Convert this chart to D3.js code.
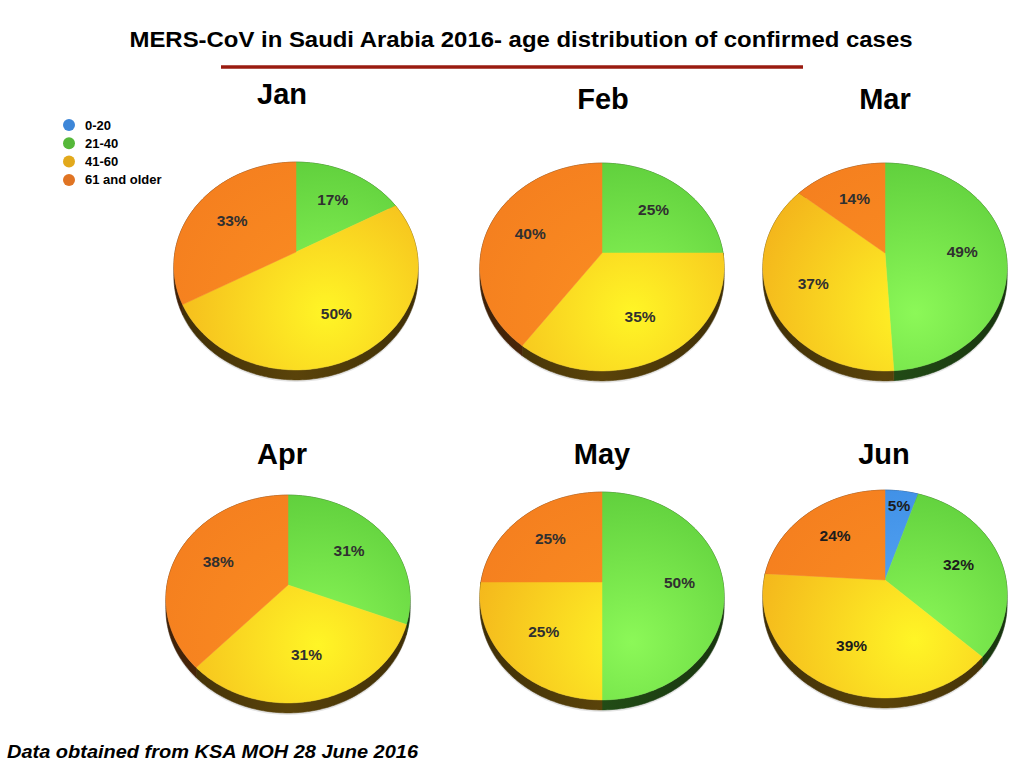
<!DOCTYPE html>
<html>
<head>
<meta charset="utf-8">
<script src="https://cdn.jsdelivr.net/npm/d3@7"></script>
<style>
  body { margin: 0; background: #fff; }
  svg { display: block; }
</style>
</head>
<body>
<svg id="chart" width="1024" height="768"></svg>
<script>
// data (percent of confirmed cases per month)
var months = ["Jan", "Feb", "Mar", "Apr", "May", "Jun"];
var ageGroups = ["0-20", "21-40", "41-60", "61 and older"];
var age0to20 = [0, 0, 0, 0, 0, 5];
var age21to40 = [17, 25, 49, 31, 50, 32];
var age41to60 = [50, 35, 37, 31, 25, 39];
var age61plus = [33, 40, 14, 38, 25, 24];

var legendColors = ["#3d86d8", "#55b83a", "#e2a91c", "#e07423"];
var faceEdge = ["#3f8fe6", "#5dcd3b", "#f4b71c", "#f5801f"];
var faceLight = ["#5aaaf6", "#8cf858", "#fff526", "#fb8e22"];

var svg = d3.select("#chart");
var defs = svg.append("defs");

var R = 121, RK = 102, persp = 0.135, thick = 10;

svg.append("text")
    .attr("x", 521).attr("y", 47)
    .attr("text-anchor", "middle")
    .attr("textLength", 783).attr("lengthAdjust", "spacingAndGlyphs")
    .style("font-family", "'Liberation Sans Narrow', 'Liberation Sans', Arial, sans-serif")
    .style("font-weight", "bold").style("font-size", "22px")
    .text("MERS-CoV in Saudi Arabia 2016- age distribution of confirmed cases");

svg.append("line")
    .attr("x1", 221).attr("x2", 803).attr("y1", 67).attr("y2", 67)
    .attr("stroke", "#9a1b10").attr("stroke-width", 3.5);

// legend
var legend = svg.append("g").attr("transform", "translate(69,125)");
ageGroups.forEach(function(g, i) {
    legend.append("circle").attr("cx", 0).attr("cy", i * 18.3).attr("r", 6)
        .attr("fill", legendColors[i]);
    legend.append("text").attr("x", 16).attr("y", i * 18.3 + 4.5)
        .style("font-family", "'Liberation Sans', Arial, sans-serif")
        .style("font-weight", "bold").style("font-size", "13px")
        .text(g);
});

svg.append("text")
    .attr("x", 7).attr("y", 758)
    .attr("textLength", 411).attr("lengthAdjust", "spacingAndGlyphs")
    .style("font-family", "'Liberation Sans', Arial, sans-serif")
    .style("font-weight", "bold").style("font-style", "italic").style("font-size", "19px")
    .text("Data obtained from KSA MOH 28 June 2016");

function project(cx, cy, a, r) {
    var X = r * Math.sin(a), Z = -r * Math.cos(a);
    var s = 1 / (1 - Z * persp);
    return [cx + R * X * s, cy + RK * Z * s];
}

function arcPoints(cx, cy, a0, a1, dy) {
    var n = Math.max(2, Math.ceil((a1 - a0) / 0.02));
    var pts = [];
    for (var i = 0; i <= n; i++) {
        var p = project(cx, cy, a0 + (a1 - a0) * i / n, 1);
        pts.push([p[0], p[1] + (dy || 0)]);
    }
    return pts;
}

var line = d3.line();
var pie = d3.pie().sort(null).value(function(d) { return d.value; });

var pieCx = [296, 602, 885, 288, 602, 885];
var pieCy = [252, 253, 253, 585, 582, 580];
var labelX = [282, 603, 885, 282, 602, 884];
var labelY = [104, 109, 109, 464, 464, 464];

months.forEach(function(m, mi) {
    var cx = pieCx[mi], cy = pieCy[mi];
    var values = [age0to20[mi], age21to40[mi], age41to60[mi], age61plus[mi]];
    var slices = pie(values.map(function(v, i) { return { value: v, group: i }; }))
        .filter(function(d) { return d.value > 0; });

    svg.append("text")
        .attr("x", labelX[mi]).attr("y", labelY[mi])
        .attr("text-anchor", "middle")
        .style("font-family", "'Liberation Sans Narrow', 'Liberation Sans', Arial, sans-serif")
        .style("font-weight", "bold").style("font-size", "29px")
        .text(m);

    var g = svg.append("g").attr("class", "pie");

    faceEdge.forEach(function(c, i) {
        var grad = defs.append("radialGradient")
            .attr("id", "g" + mi + "_" + i)
            .attr("gradientUnits", "userSpaceOnUse")
            .attr("cx", cx + 30).attr("cy", cy + 60).attr("r", 165);
        grad.append("stop").attr("offset", "0%").attr("stop-color", faceLight[i]);
        grad.append("stop").attr("offset", "100%").attr("stop-color", c);
        var sg = defs.append("linearGradient")
            .attr("id", "s" + mi + "_" + i)
            .attr("gradientUnits", "userSpaceOnUse")
            .attr("x1", cx - R).attr("x2", cx + R).attr("y1", 0).attr("y2", 0);
        sg.append("stop").attr("offset", "0%").attr("stop-color", d3.color(c).darker(3.8));
        sg.append("stop").attr("offset", "50%").attr("stop-color", d3.color(c).darker(2.8));
        sg.append("stop").attr("offset", "100%").attr("stop-color", d3.color(c).darker(3.8));
    });

    // soft drop shadow under the disc
    g.append("path")
        .attr("d", line(arcPoints(cx, cy, 0, 2 * Math.PI, thick + 2)) + "Z")
        .attr("fill", "#000").attr("opacity", 0.1);

    // side wall
    g.selectAll(".side").data(slices).enter().append("path")
        .attr("class", "side")
        .attr("d", function(d) {
            var top = arcPoints(cx, cy, d.startAngle, d.endAngle, 0);
            var bottom = arcPoints(cx, cy, d.startAngle, d.endAngle, thick).reverse();
            return line(top.concat(bottom)) + "Z";
        })
        .attr("fill", function(d) { return "url(#s" + mi + "_" + d.data.group + ")"; })
        .attr("stroke", function(d) { return "url(#s" + mi + "_" + d.data.group + ")"; })
        .attr("stroke-width", 0.6);

    // top face
    g.selectAll(".face").data(slices).enter().append("path")
        .attr("class", "face")
        .attr("d", function(d) {
            return line([[cx, cy]].concat(arcPoints(cx, cy, d.startAngle, d.endAngle, 0))) + "Z";
        })
        .attr("fill", function(d) { return "url(#g" + mi + "_" + d.data.group + ")"; })
        .attr("stroke", function(d) { return "url(#g" + mi + "_" + d.data.group + ")"; })
        .attr("stroke-width", 0.5);

    // percentage labels
    g.selectAll(".pct").data(slices).enter().append("text")
        .attr("class", "pct")
        .attr("x", function(d) {
            var a = (d.startAngle + d.endAngle) / 2;
            var r = d.value < 8 ? 0.82 : 0.64;
            return project(cx, cy, a, r)[0];
        })
        .attr("y", function(d) {
            var a = (d.startAngle + d.endAngle) / 2;
            var r = d.value < 8 ? 0.82 : 0.64;
            return project(cx, cy, a, r)[1];
        })
        .attr("dy", "0.36em")
        .attr("text-anchor", "middle")
        .style("font-family", "'Liberation Sans', Arial, sans-serif")
        .style("font-weight", "bold").style("font-size", "15.5px")
        .attr("fill", mi === 5 ? "#1c1c1c" : "#303030")
        .text(function(d) { return d.value + "%"; });
});
</script>
</body>
</html>
